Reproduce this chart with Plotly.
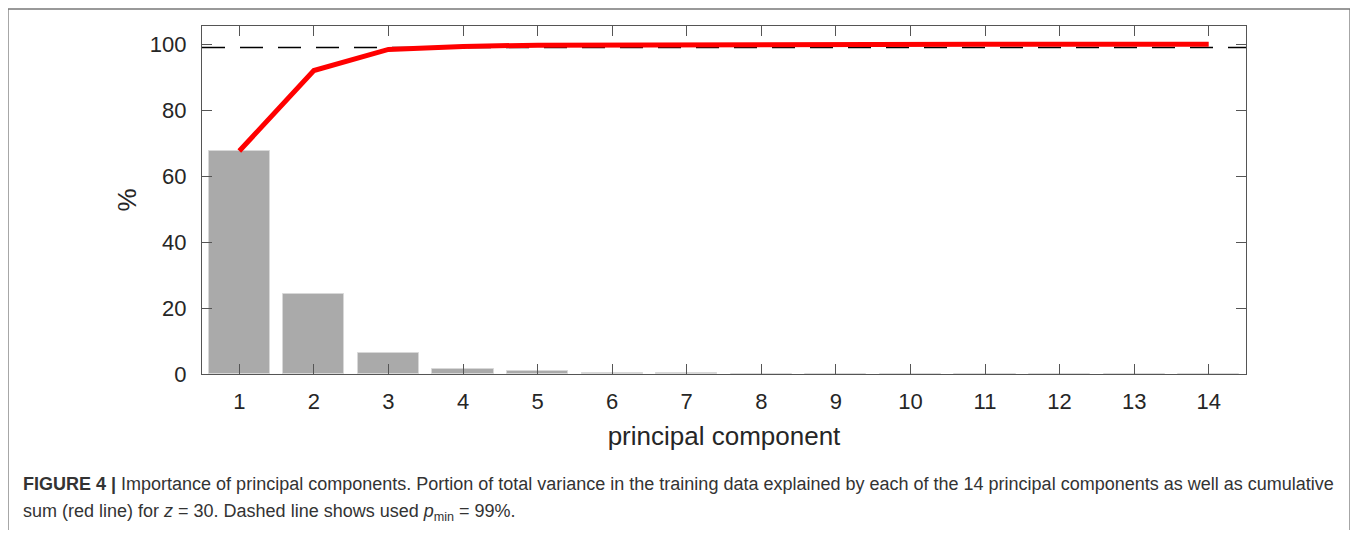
import plotly.graph_objects as go

components = list(range(1, 15))
variance = [67.6, 24.4, 6.4, 1.6, 1.0, 0.4, 0.2, 0.15, 0.1, 0.08, 0.05, 0.04, 0.03, 0.02]
cumulative = [67.6, 92.0, 98.4, 99.3, 99.7, 99.8, 99.9, 99.95, 100.0, 100.0, 100.0, 100.0, 100.0, 100.0]
p_min = 99
x_ticks = components
y_ticks = [0, 20, 40, 60, 80, 100]

FONT = "Liberation Sans, Arial, sans-serif"

fig = go.Figure()
fig.add_trace(go.Bar(x=components, y=variance, width=0.82,
                     marker=dict(color="#aaaaaa", line=dict(color="#d8d8d8", width=1)),
                     showlegend=False, hoverinfo="skip"))
fig.add_trace(go.Scatter(x=[0.5, 14.5], y=[p_min, p_min], mode="lines",
                         line=dict(color="black", width=1.5, dash="23px,15px"),
                         showlegend=False, hoverinfo="skip"))
fig.add_trace(go.Scatter(x=components, y=cumulative, mode="lines",
                         line=dict(color="#ff0000", width=5),
                         showlegend=False, hoverinfo="skip"))

axis_common = dict(showline=True, linecolor="#555555", linewidth=1.3, mirror="ticks",
                   ticks="inside", ticklen=10, tickcolor="#555555", tickwidth=1.3,
                   showgrid=False, zeroline=False,
                   tickfont=dict(family=FONT, size=22, color="#262626"))

fig.update_layout(
    width=1350, height=522,
    margin=dict(l=194, r=112, t=18, b=156),
    plot_bgcolor="white", paper_bgcolor="white",
    bargap=0,
    xaxis=dict(range=[0.5, 14.5], tickvals=x_ticks, ticktext=[str(v) for v in x_ticks],
               ticklabelstandoff=7,
               title=dict(text="principal component", standoff=14,
                          font=dict(family=FONT, size=26, color="#262626")),
               **axis_common),
    yaxis=dict(range=[0, 105.5], tickvals=y_ticks, ticklabelstandoff=10,
               title=dict(text="%", standoff=5,
                          font=dict(family=FONT, size=26, color="#262626")),
               **axis_common),
)

# outer figure frame (three sides; bottom is beyond the picture)
frame_x0 = (0 - 194) / 1044
frame_x1 = (1342 - 194) / 1044
frame_top = (366 - 1) / 348
frame_bottom = (366 - 522) / 348
frame_line = dict(color="#777777", width=1.3)
fig.add_shape(type="line", xref="paper", yref="paper", x0=frame_x0, x1=frame_x1,
              y0=frame_top, y1=frame_top, line=frame_line, layer="below")
fig.add_shape(type="line", xref="paper", yref="paper", x0=frame_x0, x1=frame_x0,
              y0=frame_bottom, y1=frame_top, line=frame_line, layer="below")
fig.add_shape(type="line", xref="paper", yref="paper", x0=frame_x1, x1=frame_x1,
              y0=frame_bottom, y1=frame_top, line=frame_line, layer="below")

cap_font = dict(family=FONT, size=18, color="#333333")
fig.add_annotation(xref="paper", yref="paper", x=(13 - 194) / 1044, y=(366 - 476) / 348,
                   xanchor="left", yanchor="middle", showarrow=False, font=cap_font,
                   text="<b>FIGURE 4 |</b> Importance of principal components. Portion of total variance in the training data explained by each of the 14 principal components as well as cumulative")
fig.add_annotation(xref="paper", yref="paper", x=(13 - 194) / 1044, y=(366 - 504) / 348,
                   xanchor="left", yanchor="middle", showarrow=False, font=cap_font,
                   text="sum (red line) for <i>z</i> = 30. Dashed line shows used <i>p</i><sub>min</sub> = 99%.")

fig.write_html("out.html")
